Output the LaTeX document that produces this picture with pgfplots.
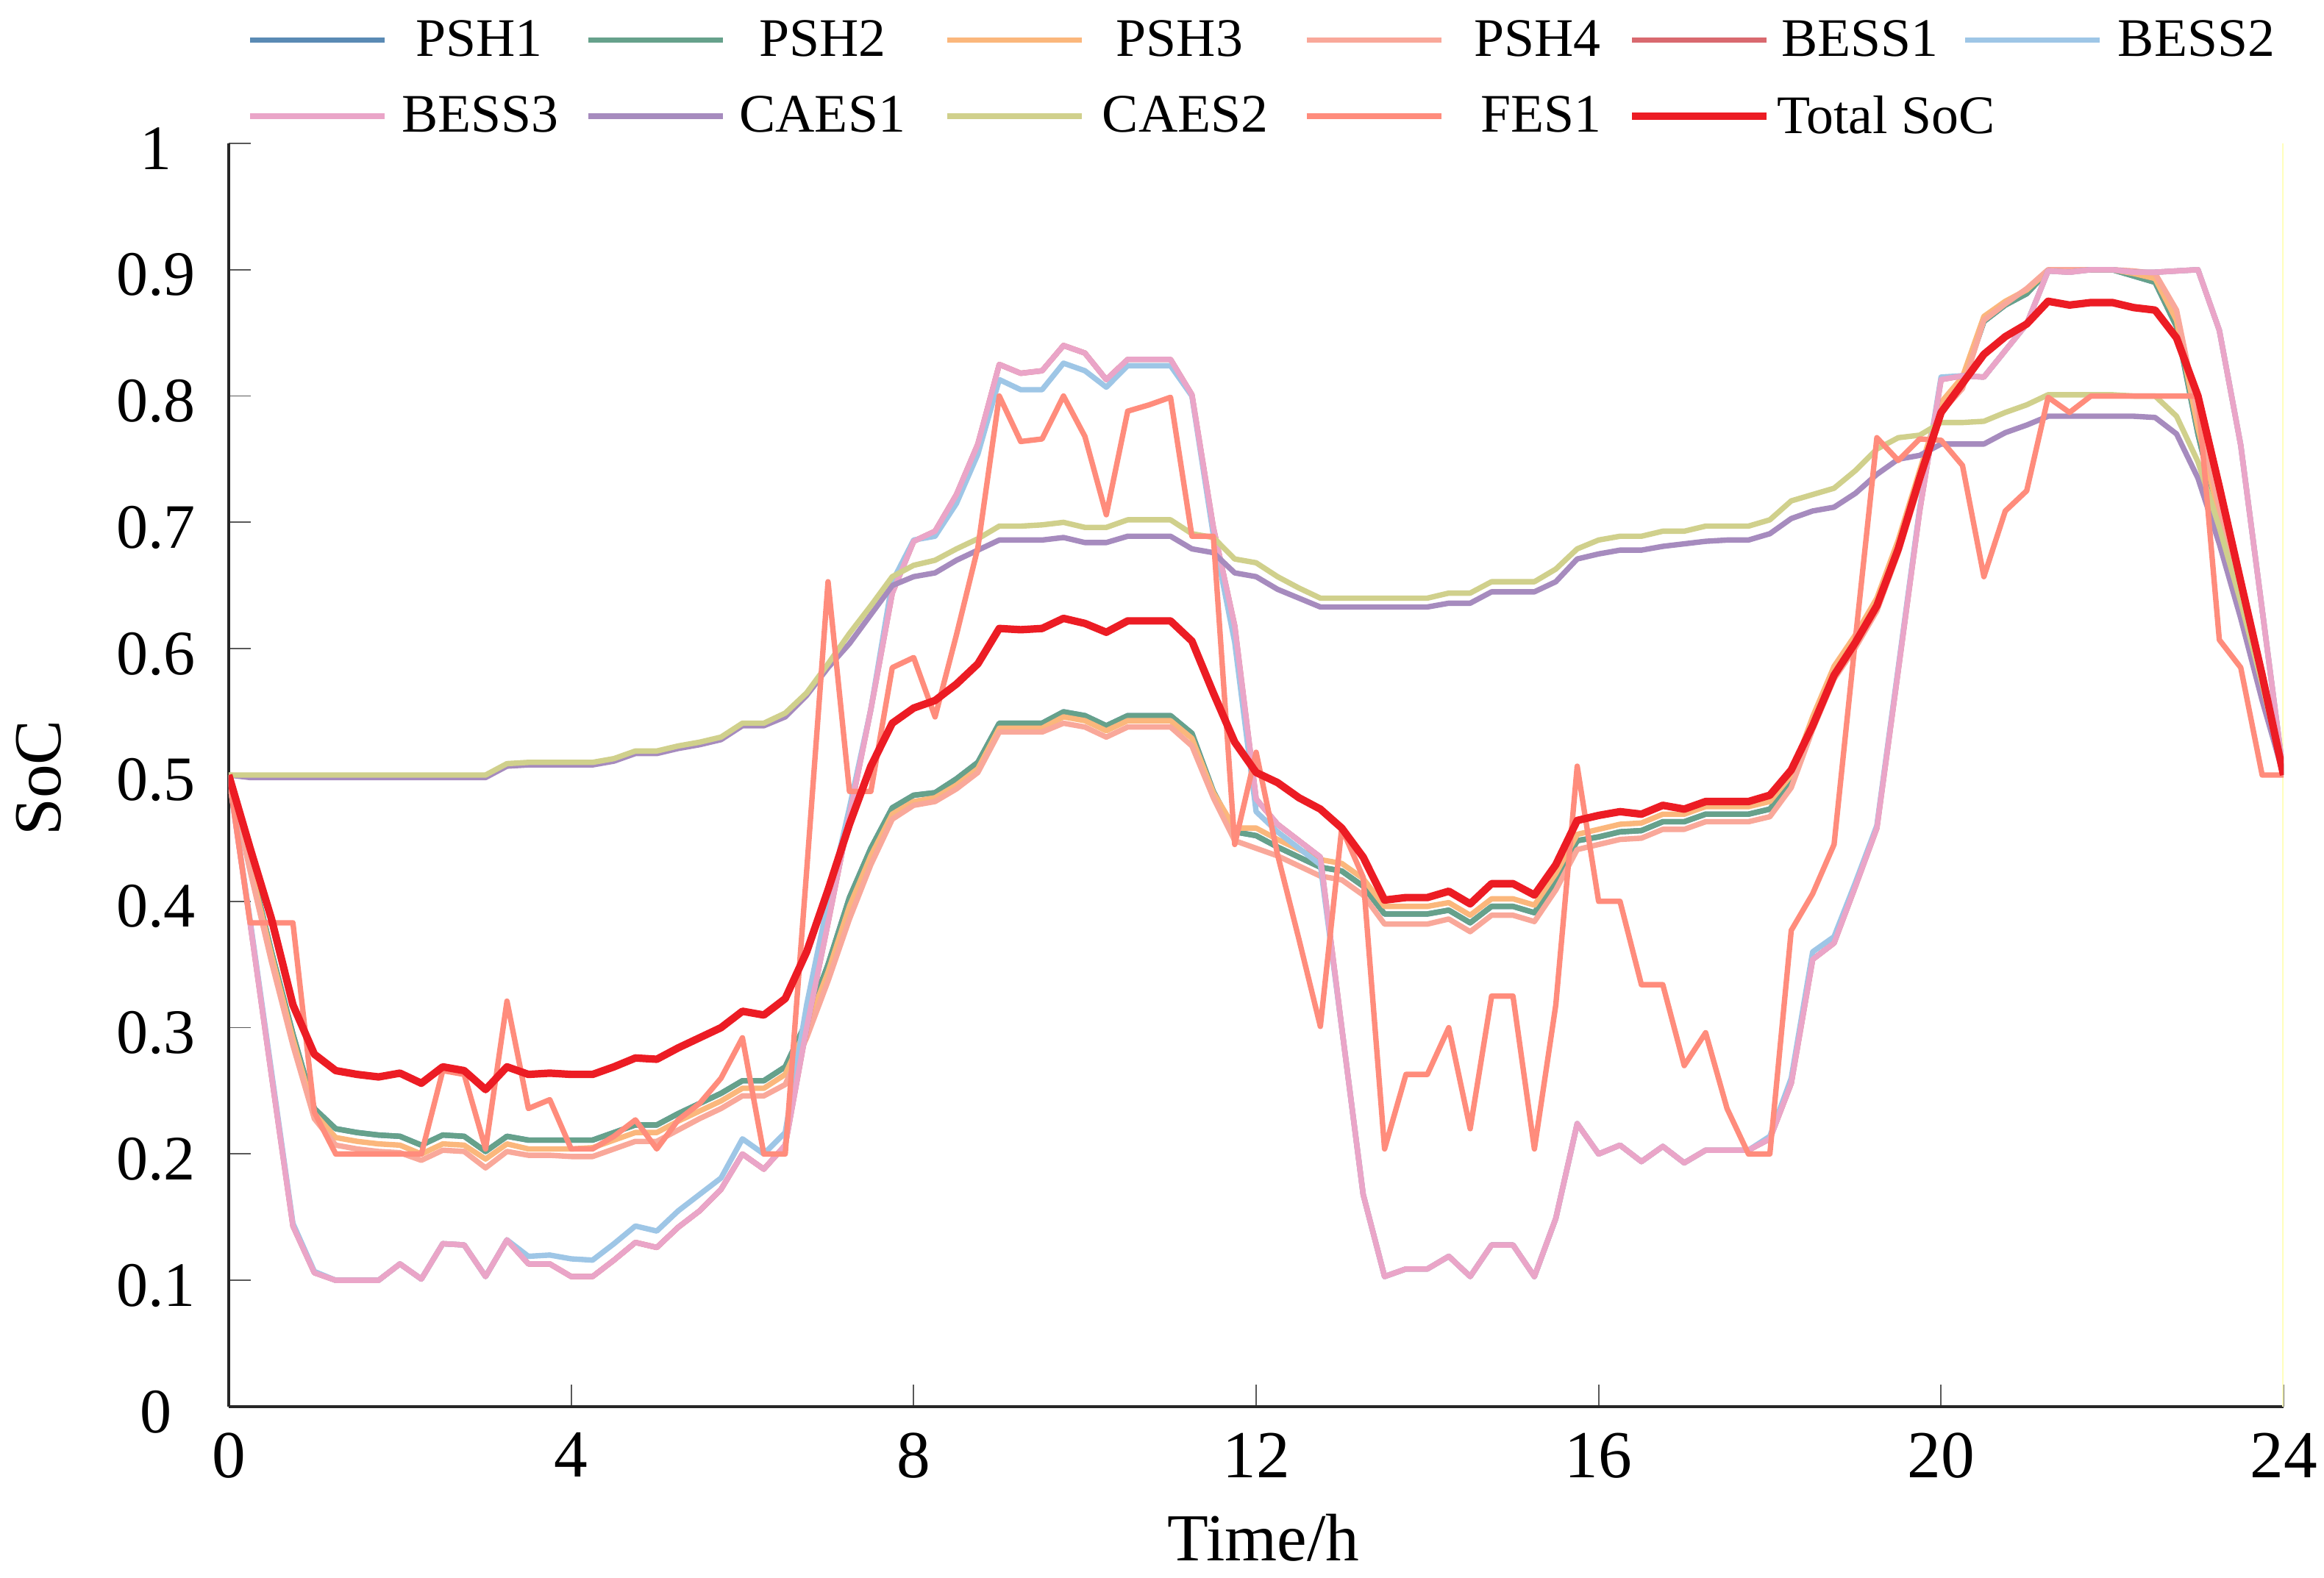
\documentclass[border=0pt]{standalone}
\usepackage{fontspec}
\setmainfont{Liberation Serif}
\usepackage{pgfplots}
\usepackage{pgfplotstable}
\pgfplotsset{compat=1.18}

\definecolor{cPSHa}{HTML}{5A8AB4}
\definecolor{cPSHb}{HTML}{66A18B}
\definecolor{cPSHc}{HTML}{FBB77C}
\definecolor{cPSHd}{HTML}{F9A89A}
\definecolor{cBESSa}{HTML}{D9696F}
\definecolor{cBESSb}{HTML}{9EC6E6}
\definecolor{cBESSc}{HTML}{EAA5C8}
\definecolor{cCAESa}{HTML}{A68BBE}
\definecolor{cCAESb}{HTML}{D0D08C}
\definecolor{cFES}{HTML}{FF8C7C}
\definecolor{cTotal}{HTML}{EC1C24}

% legend text cell: width of the column, gap after the line sample, label
\newcommand{\lgd}[3]{\makebox[#1][l]{\hspace*{#2}#3}}

% state of charge of every storage unit, 15-minute resolution
\pgfplotstableread{
t     p1    p2    p3    p4    b1    b2    b3    c1    c2    f     tot
0     0.500 0.500 0.500 0.500 0.500 0.500 0.500 0.500 0.500 0.500 0.500
0.25  0.430 0.430 0.428 0.424 0.383 0.385 0.383 0.498 0.500 0.383 0.442
0.5   0.360 0.360 0.357 0.352 0.262 0.265 0.262 0.498 0.500 0.383 0.386
0.75  0.295 0.295 0.291 0.286 0.143 0.145 0.143 0.498 0.500 0.383 0.318
1     0.236 0.236 0.232 0.228 0.106 0.107 0.106 0.498 0.500 0.233 0.279
1.25  0.220 0.220 0.213 0.207 0.100 0.100 0.100 0.498 0.500 0.200 0.266
1.5   0.217 0.217 0.210 0.204 0.100 0.100 0.100 0.498 0.500 0.200 0.263
1.75  0.215 0.215 0.208 0.202 0.100 0.100 0.100 0.498 0.500 0.200 0.261
2     0.214 0.214 0.207 0.201 0.113 0.113 0.113 0.498 0.500 0.200 0.264
2.25  0.207 0.207 0.200 0.195 0.101 0.101 0.101 0.498 0.500 0.200 0.256
2.5   0.215 0.215 0.208 0.203 0.129 0.129 0.129 0.498 0.500 0.266 0.269
2.75  0.214 0.214 0.207 0.202 0.128 0.128 0.128 0.498 0.500 0.263 0.266
3     0.202 0.202 0.196 0.189 0.103 0.103 0.103 0.498 0.500 0.204 0.251
3.25  0.214 0.214 0.208 0.202 0.132 0.132 0.132 0.507 0.509 0.321 0.269
3.5   0.211 0.211 0.204 0.199 0.113 0.119 0.113 0.508 0.510 0.236 0.263
3.75  0.211 0.211 0.204 0.199 0.113 0.120 0.113 0.508 0.510 0.243 0.264
4     0.211 0.211 0.204 0.198 0.103 0.117 0.103 0.508 0.510 0.204 0.263
4.25  0.211 0.211 0.205 0.198 0.103 0.116 0.103 0.508 0.510 0.204 0.263
4.5   0.217 0.217 0.211 0.204 0.116 0.129 0.116 0.511 0.513 0.214 0.269
4.75  0.223 0.223 0.217 0.210 0.130 0.143 0.130 0.517 0.519 0.227 0.276
5     0.223 0.223 0.217 0.210 0.126 0.139 0.126 0.517 0.519 0.204 0.275
5.25  0.232 0.232 0.226 0.219 0.142 0.155 0.142 0.521 0.523 0.227 0.284
5.5   0.240 0.240 0.234 0.228 0.155 0.168 0.155 0.524 0.526 0.240 0.292
5.75  0.248 0.248 0.242 0.236 0.172 0.181 0.172 0.528 0.530 0.260 0.300
6     0.258 0.258 0.252 0.246 0.200 0.212 0.200 0.539 0.541 0.292 0.313
6.25  0.258 0.258 0.252 0.246 0.188 0.200 0.188 0.539 0.541 0.200 0.310
6.5   0.269 0.269 0.263 0.255 0.207 0.217 0.207 0.546 0.549 0.200 0.323
6.75  0.305 0.305 0.300 0.292 0.300 0.318 0.300 0.563 0.565 0.424 0.360
7     0.350 0.350 0.344 0.337 0.383 0.400 0.383 0.585 0.588 0.653 0.409
7.25  0.403 0.403 0.396 0.386 0.468 0.474 0.468 0.604 0.612 0.487 0.461
7.5   0.442 0.442 0.436 0.429 0.552 0.552 0.552 0.627 0.634 0.487 0.507
7.75  0.474 0.474 0.469 0.465 0.644 0.653 0.644 0.650 0.657 0.585 0.541
8     0.484 0.484 0.479 0.476 0.685 0.686 0.685 0.657 0.666 0.593 0.553
8.25  0.486 0.486 0.482 0.479 0.693 0.689 0.693 0.660 0.670 0.546 0.559
8.5   0.497 0.497 0.492 0.489 0.722 0.715 0.722 0.670 0.679 0.611 0.572
8.75  0.510 0.510 0.505 0.502 0.762 0.754 0.762 0.678 0.687 0.680 0.588
9     0.541 0.541 0.537 0.534 0.825 0.813 0.825 0.686 0.697 0.800 0.616
9.25  0.541 0.541 0.537 0.534 0.818 0.805 0.818 0.686 0.697 0.764 0.615
9.5   0.541 0.541 0.537 0.534 0.820 0.805 0.820 0.686 0.698 0.766 0.616
9.75  0.550 0.550 0.546 0.541 0.840 0.826 0.840 0.688 0.700 0.800 0.624
10    0.547 0.547 0.543 0.538 0.834 0.820 0.834 0.684 0.696 0.768 0.620
10.25 0.539 0.539 0.535 0.530 0.813 0.807 0.813 0.684 0.696 0.706 0.613
10.5  0.547 0.547 0.543 0.538 0.829 0.824 0.829 0.689 0.702 0.788 0.622
10.75 0.547 0.547 0.543 0.538 0.829 0.824 0.829 0.689 0.702 0.793 0.622
11    0.547 0.547 0.543 0.538 0.829 0.824 0.829 0.689 0.702 0.799 0.622
11.25 0.533 0.533 0.529 0.523 0.801 0.800 0.801 0.679 0.691 0.689 0.606
11.5  0.487 0.487 0.486 0.482 0.696 0.690 0.696 0.676 0.688 0.689 0.565
11.75 0.455 0.455 0.458 0.448 0.618 0.605 0.618 0.660 0.671 0.445 0.526
12    0.452 0.452 0.458 0.442 0.481 0.471 0.481 0.657 0.668 0.518 0.502
12.25 0.443 0.443 0.449 0.436 0.461 0.455 0.461 0.647 0.657 0.437 0.494
12.5  0.435 0.435 0.441 0.428 0.448 0.442 0.448 0.640 0.648 0.370 0.482
12.75 0.427 0.427 0.433 0.420 0.435 0.429 0.435 0.633 0.640 0.301 0.473
13    0.424 0.424 0.430 0.417 0.300 0.300 0.300 0.633 0.640 0.458 0.458
13.25 0.412 0.412 0.418 0.405 0.168 0.168 0.168 0.633 0.640 0.419 0.435
13.5  0.390 0.390 0.396 0.382 0.103 0.103 0.103 0.633 0.640 0.204 0.401
13.75 0.390 0.390 0.396 0.382 0.109 0.109 0.109 0.633 0.640 0.263 0.403
14    0.390 0.390 0.396 0.382 0.109 0.109 0.109 0.633 0.640 0.263 0.403
14.25 0.393 0.393 0.399 0.386 0.119 0.119 0.119 0.636 0.644 0.300 0.408
14.5  0.383 0.383 0.389 0.376 0.103 0.103 0.103 0.636 0.644 0.220 0.398
14.75 0.396 0.396 0.402 0.389 0.128 0.128 0.128 0.645 0.653 0.325 0.414
15    0.396 0.396 0.402 0.389 0.128 0.128 0.128 0.645 0.653 0.325 0.414
15.25 0.391 0.391 0.397 0.384 0.103 0.103 0.103 0.645 0.653 0.204 0.405
15.5  0.416 0.416 0.422 0.409 0.149 0.149 0.149 0.653 0.663 0.318 0.429
15.75 0.448 0.448 0.453 0.441 0.224 0.224 0.224 0.671 0.679 0.507 0.464
16    0.451 0.451 0.457 0.445 0.200 0.200 0.200 0.675 0.686 0.400 0.468
16.25 0.455 0.455 0.461 0.449 0.207 0.207 0.207 0.678 0.689 0.400 0.471
16.5  0.456 0.456 0.462 0.450 0.194 0.194 0.194 0.678 0.689 0.334 0.469
16.75 0.463 0.463 0.469 0.457 0.206 0.206 0.206 0.681 0.693 0.334 0.476
17    0.463 0.463 0.469 0.457 0.193 0.193 0.193 0.683 0.693 0.270 0.473
17.25 0.469 0.469 0.475 0.463 0.203 0.203 0.203 0.685 0.697 0.296 0.479
17.5  0.469 0.469 0.475 0.463 0.203 0.203 0.203 0.686 0.697 0.236 0.479
17.75 0.469 0.469 0.475 0.463 0.203 0.203 0.203 0.686 0.697 0.200 0.479
18    0.473 0.473 0.479 0.467 0.212 0.214 0.212 0.691 0.702 0.200 0.484
18.25 0.494 0.494 0.500 0.490 0.256 0.260 0.256 0.703 0.717 0.377 0.504
18.5  0.540 0.540 0.546 0.536 0.354 0.360 0.354 0.709 0.722 0.406 0.539
18.75 0.580 0.580 0.586 0.576 0.367 0.372 0.367 0.712 0.727 0.445 0.579
19    0.605 0.605 0.611 0.601 0.412 0.415 0.412 0.723 0.741 0.608 0.605
19.25 0.634 0.634 0.640 0.630 0.458 0.460 0.458 0.738 0.758 0.767 0.634
19.5  0.680 0.680 0.686 0.676 0.583 0.585 0.583 0.750 0.767 0.749 0.679
19.75 0.735 0.735 0.741 0.731 0.709 0.711 0.709 0.753 0.769 0.766 0.735
20    0.790 0.790 0.795 0.787 0.813 0.815 0.813 0.762 0.779 0.765 0.787
20.25 0.810 0.810 0.815 0.806 0.816 0.816 0.816 0.762 0.779 0.745 0.810
20.5  0.859 0.859 0.863 0.860 0.815 0.815 0.815 0.762 0.780 0.657 0.833
20.75 0.872 0.872 0.875 0.873 0.836 0.836 0.836 0.771 0.787 0.709 0.847
21    0.881 0.881 0.884 0.885 0.857 0.857 0.857 0.777 0.793 0.725 0.857
21.25 0.899 0.899 0.899 0.900 0.899 0.899 0.899 0.784 0.801 0.799 0.875
21.5  0.900 0.900 0.900 0.900 0.898 0.898 0.898 0.784 0.801 0.787 0.872
21.75 0.900 0.900 0.900 0.900 0.900 0.900 0.900 0.784 0.801 0.800 0.874
22    0.900 0.900 0.900 0.900 0.900 0.900 0.900 0.784 0.801 0.800 0.874
22.25 0.895 0.895 0.897 0.899 0.898 0.898 0.898 0.784 0.800 0.800 0.870
22.5  0.890 0.890 0.893 0.897 0.898 0.898 0.898 0.783 0.800 0.800 0.868
22.75 0.855 0.855 0.860 0.868 0.899 0.899 0.899 0.770 0.784 0.800 0.846
23    0.770 0.770 0.775 0.785 0.900 0.900 0.900 0.735 0.748 0.800 0.800
23.25 0.700 0.700 0.705 0.712 0.852 0.852 0.852 0.683 0.696 0.607 0.728
23.5  0.635 0.635 0.638 0.643 0.761 0.761 0.761 0.624 0.637 0.585 0.653
23.75 0.568 0.568 0.570 0.573 0.631 0.631 0.631 0.559 0.572 0.500 0.579
24    0.500 0.500 0.500 0.500 0.500 0.500 0.500 0.500 0.500 0.500 0.500
}\soctable

\begin{document}
\begin{tikzpicture}
\begin{axis}[
  at={(0,0)}, anchor=south west,
  scale only axis, width=279.4mm, height=171.8mm,
  xmin=0, xmax=24, ymin=0, ymax=1,
  axis x line*=bottom, axis y line*=left,
  axis line style={-, line width=1pt, black!85},
  tick align=inside, major tick length=3mm,
  tick style={black!65, line width=0.5pt},
  xtick={0,4,8,12,16,20,24},
  ytick={0,0.1,0.2,0.3,0.4,0.5,0.6,0.7,0.8,0.9,1},
  /pgf/number format/assume math mode=true,
  xticklabel style={font=\fontsize{26}{26}\selectfont, inner sep=0pt, yshift=-3.5mm},
  yticklabel style={font=\fontsize{24.5}{24.5}\selectfont, anchor=center, inner sep=0pt, xshift=-9.9mm, yshift=-0.7mm},
  xlabel={Time/h}, ylabel={SoC},
  label style={font=\fontsize{26}{26}\selectfont, inner sep=0pt},
  xlabel style={at={(axis description cs:0.5036,-0.1222)}, anchor=base},
  ylabel style={at={(axis description cs:-0.0816,0.4977)}, anchor=base},
  legend columns=6,
  legend style={at={(0.00895,1.0978)}, anchor=north west, draw=none, fill=none,
    inner sep=0pt, row sep=4.8mm, font=\fontsize{21}{21}\selectfont,
    nodes={inner sep=0pt},
    /tikz/every odd column/.append style={column sep=0mm},
    /tikz/every even column/.append style={column sep=0mm}},
  legend image code/.code={\draw[#1] (0mm,0mm) -- (18.3mm,0mm);},
  every axis plot/.append style={line width=2.1pt, line join=round, mark=none},
]
\addplot[forget plot, color={rgb,255:red,255;green,255;blue,190}, line width=0.9pt] coordinates {(24,0) (24,1)};
\addplot[cPSHa]  table[x=t, y=p1]  {\soctable}; \addlegendentry{\lgd{26.9mm}{3.8mm}{PSH1}}
\addplot[cPSHb]  table[x=t, y=p2]  {\soctable}; \addlegendentry{\lgd{29.8mm}{4.6mm}{PSH2}}
\addplot[cPSHc]  table[x=t, y=p3]  {\soctable}; \addlegendentry{\lgd{29.8mm}{4.3mm}{PSH3}}
\addplot[cPSHd]  table[x=t, y=p4]  {\soctable}; \addlegendentry{\lgd{25.1mm}{4.1mm}{PSH4}}
\addplot[cBESSa] table[x=t, y=b1]  {\soctable}; \addlegendentry{\lgd{26.1mm}{1.5mm}{BESS1}}
\addplot[cBESSb] table[x=t, y=b2]  {\soctable}; \addlegendentry{\lgd{24.0mm}{2.1mm}{BESS2}}
\addplot[cBESSc] table[x=t, y=b3]  {\soctable}; \addlegendentry{\lgd{26.9mm}{1.9mm}{BESS3}}
\addplot[cCAESa] table[x=t, y=c1]  {\soctable}; \addlegendentry{\lgd{29.8mm}{1.9mm}{CAES1}}
\addplot[cCAESb] table[x=t, y=c2]  {\soctable}; \addlegendentry{\lgd{29.8mm}{2.4mm}{CAES2}}
\addplot[cFES]   table[x=t, y=f]   {\soctable}; \addlegendentry{\lgd{25.1mm}{5.0mm}{FES1}}
\addplot[cTotal, line width=2.9pt] table[x=t, y=tot] {\soctable}; \addlegendentry{\lgd{26.1mm}{0.9mm}{Total SoC}}
\end{axis}
\pgfresetboundingbox
\path[use as bounding box] (-31.1mm,-23.3mm) rectangle (284.9mm,191.3mm);
\end{tikzpicture}
\end{document}
